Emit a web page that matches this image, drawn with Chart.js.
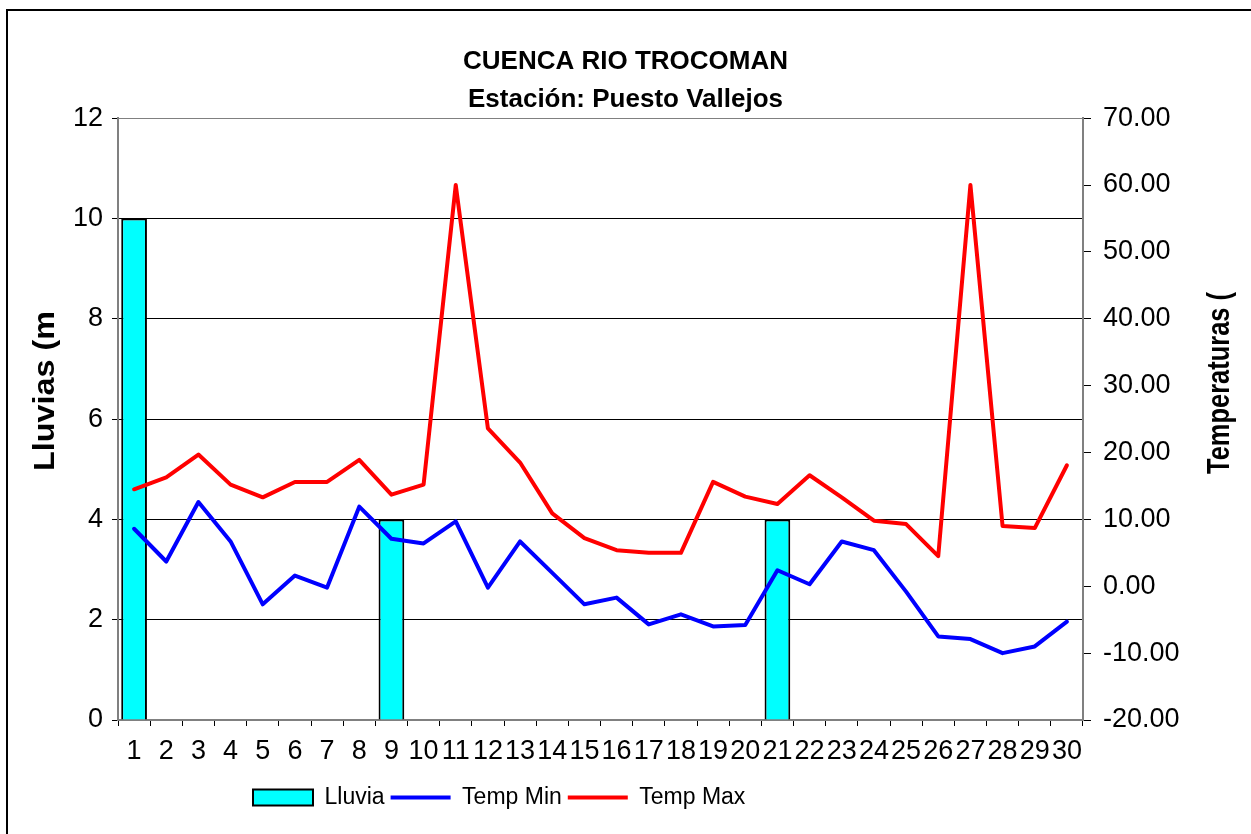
<!DOCTYPE html>
<html><head><meta charset="utf-8">
<script src="https://cdn.jsdelivr.net/npm/chart.js@4.4.1/dist/chart.umd.min.js"></script>
<style>
html,body{margin:0;padding:0;background:#fff;overflow:hidden}
#wrap{position:absolute;left:0;top:0;width:1251px;height:834px}
</style></head>
<body><div id="wrap"><canvas id="c" width="1251" height="834"></canvas></div>
<script>
const titleLines = ['CUENCA RIO TROCOMAN', 'Estación: Puesto Vallejos'];
const leftAxisTitle = 'Lluvias (m';
const rightAxisTitle = 'Temperaturas (';
const categories = ['1','2','3','4','5','6','7','8','9','10','11','12','13','14','15','16','17','18','19','20','21','22','23','24','25','26','27','28','29','30'];
const lluvia  = [10,0,0,0,0,0,0,0,4,0,0,0,0,0,0,0,0,0,0,0,4,0,0,0,0,0,0,0,0,0];
const tempMin = [8.6,3.7,12.6,6.7,-2.7,1.6,-0.2,11.9,7.1,6.4,9.7,-0.2,6.7,2.0,-2.7,-1.7,-5.7,-4.2,-6.0,-5.8,2.4,0.3,6.7,5.4,-0.8,-7.5,-7.9,-10.0,-9.0,-5.3];
const tempMax = [14.5,16.3,19.7,15.2,13.3,15.6,15.6,18.9,13.7,15.2,60.0,23.6,18.5,10.9,7.2,5.4,5.0,5.0,15.6,13.4,12.3,16.6,13.3,9.8,9.3,4.5,60.0,9.0,8.7,18.1];
const lluviaAxis = {min: 0, max: 12, step: 2};
const tempAxis = {min: -20, max: 70, step: 10};

const FONT = "'Liberation Sans', Arial, sans-serif";

const framePlugin = {
  id: 'frame',
  beforeDraw(chart) {
    const ctx = chart.ctx;
    ctx.save();
    ctx.fillStyle = '#fff';
    ctx.fillRect(0, 0, chart.width, chart.height);
    ctx.strokeStyle = '#000';
    ctx.lineWidth = 2;
    ctx.strokeRect(7, 10, chart.width + 20, chart.height + 20);
    ctx.restore();
  },
  afterLayout(chart) {
    if (chart.legend) chart.legend.left = 247;
  },
  afterDraw(chart) {
    const ctx = chart.ctx;
    function vText(text, cx, cy, size, len) {
      ctx.save();
      ctx.translate(cx, cy);
      ctx.rotate(-Math.PI / 2);
      ctx.font = 'bold ' + size + 'px ' + FONT;
      const w = ctx.measureText(text).width;
      ctx.scale(len / w, 1);
      ctx.fillStyle = '#000';
      ctx.textAlign = 'center';
      ctx.textBaseline = 'middle';
      ctx.fillText(text, 0, 0);
      ctx.restore();
    }
    vText(leftAxisTitle, 46, 391, 29, 160);
    vText(rightAxisTitle, 1220, 383, 31, 182);
  }
};

new Chart(document.getElementById('c'), {
  data: {
    labels: categories,
    datasets: [
      {type: 'bar', label: 'Lluvia', data: lluvia, yAxisID: 'y', order: 1,
       backgroundColor: '#00FFFF', borderColor: '#000', borderWidth: 2,
       barPercentage: 0.8, categoryPercentage: 1.0},
      {type: 'line', label: 'Temp Min', data: tempMin, yAxisID: 'y2', order: 0,
       borderColor: '#0000FF', backgroundColor: '#0000FF', borderWidth: 4,
       pointRadius: 0, tension: 0, borderJoinStyle: 'round', borderCapStyle: 'round'},
      {type: 'line', label: 'Temp Max', data: tempMax, yAxisID: 'y2', order: 0,
       borderColor: '#FF0000', backgroundColor: '#FF0000', borderWidth: 4,
       pointRadius: 0, tension: 0, borderJoinStyle: 'round', borderCapStyle: 'round'}
    ]
  },
  options: {
    responsive: false,
    animation: false,
    layout: {padding: {top: 0, left: 0, right: 0, bottom: 15}},
    plugins: {
      tooltip: {enabled: false},
      title: {
        display: true, text: titleLines, color: '#000',
        font: {family: FONT, size: 26, weight: 'bold', lineHeight: 1.436},
        padding: {top: 43.5, bottom: 0}
      },
      legend: {
        position: 'bottom', align: 'start',
        labels: {
          color: '#000', font: {family: FONT, size: 23},
          usePointStyle: true, pointStyleWidth: 60, boxHeight: 16, padding: 6,
          sort: (a, b) => a.datasetIndex - b.datasetIndex,
          generateLabels(chart) {
            const items = Chart.defaults.plugins.legend.labels.generateLabels(chart);
            items.forEach(it => {
              const ds = chart.data.datasets[it.datasetIndex];
              if (ds.type === 'bar') { it.pointStyle = 'rect'; it.lineWidth = 2; it.strokeStyle = '#000'; it.fillStyle = '#00FFFF'; }
              else { it.pointStyle = 'line'; it.lineWidth = 4; it.strokeStyle = ds.borderColor; }
            });
            return items;
          }
        }
      }
    },
    scales: {
      x: {
        type: 'category', offset: true,
        grid: {offset: true, drawOnChartArea: false, tickLength: 6, tickColor: '#000'},
        border: {color: '#808080', width: 2},
        ticks: {color: '#000', font: {family: FONT, size: 27}, padding: 9, maxRotation: 0, autoSkip: false},
        afterFit(s) { s.height = 60; }
      },
      y: {
        position: 'left', min: lluviaAxis.min, max: lluviaAxis.max,
        ticks: {stepSize: lluviaAxis.step, color: '#000', font: {family: FONT, size: 27}, padding: 9},
        grid: {color: c => (c.tick && c.tick.value === lluviaAxis.max) ? '#808080' : '#000', lineWidth: 1, tickLength: 6, tickColor: '#000'},
        border: {color: '#808080', width: 2},
        afterFit(s) { s.width = 118; }
      },
      y2: {
        position: 'right', min: tempAxis.min, max: tempAxis.max,
        ticks: {stepSize: tempAxis.step, color: '#000', font: {family: FONT, size: 27}, padding: 12,
                callback: v => Number(v).toFixed(2)},
        grid: {drawOnChartArea: false, tickLength: 8, tickColor: '#000'},
        border: {color: '#808080', width: 2},
        afterFit(s) { s.width = 168; }
      }
    }
  },
  plugins: [framePlugin]
});
</script>
</body></html>
